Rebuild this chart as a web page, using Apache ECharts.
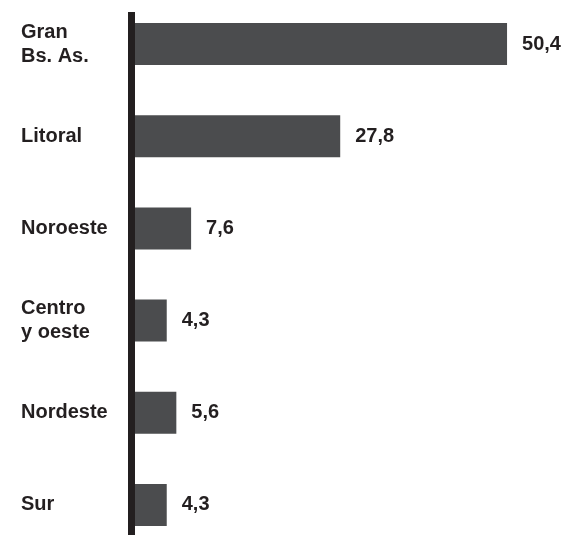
<!DOCTYPE html>
<html>
<head>
<meta charset="utf-8">
<script src="https://cdn.jsdelivr.net/npm/echarts@6/dist/echarts.min.js"></script>
<style>
  html, body { margin: 0; padding: 0; background: #fff; }
  #chart { width: 562px; height: 535px; }
</style>
</head>
<body>
<div id="chart"></div>
<script>
// regiones y porcentajes
var regiones = ['Gran\nBs. As.', 'Litoral', 'Noroeste', 'Centro\ny oeste', 'Nordeste', 'Sur'];
var valores = [50.4, 27.8, 7.6, 4.3, 5.6, 4.3];

var chart = echarts.init(document.getElementById('chart'));
var fuente = '"Liberation Sans", Arial, sans-serif';

var option = {
  backgroundColor: '#ffffff',
  animation: false,
  grid: [
    { left: 135, right: 21, top: -2, bottom: -16, outerBoundsMode: 'none' },
    // solo para la linea vertical del eje
    { left: 131.5, right: 21, top: 12, bottom: 0, outerBoundsMode: 'none' }
  ],
  xAxis: [
    { type: 'value', min: 0, max: 55, show: false },
    { type: 'value', gridIndex: 1, show: false }
  ],
  yAxis: [
    {
      type: 'category',
      data: regiones,
      inverse: true,
      axisLine: { show: false },
      axisTick: { show: false },
      axisLabel: {
        align: 'left',
        margin: 114,
        color: '#231f20',
        fontFamily: fuente,
        fontWeight: 'bold',
        fontSize: 20,
        lineHeight: 24
      }
    },
    {
      type: 'category',
      gridIndex: 1,
      data: [''],
      axisLine: { show: true, lineStyle: { color: '#231f20', width: 7, cap: 'butt' } },
      axisTick: { show: false },
      axisLabel: { show: false }
    }
  ],
  series: [
    {
      type: 'bar',
      data: valores,
      barWidth: 42,
      itemStyle: { color: '#4b4c4e' },
      label: {
        show: true,
        position: 'right',
        distance: 15,
        color: '#231f20',
        fontFamily: fuente,
        fontWeight: 'bold',
        fontSize: 20,
        formatter: function (p) { return p.value.toFixed(1).replace('.', ','); }
      }
    }
  ]
};

option && chart.setOption(option);
</script>
</body>
</html>
